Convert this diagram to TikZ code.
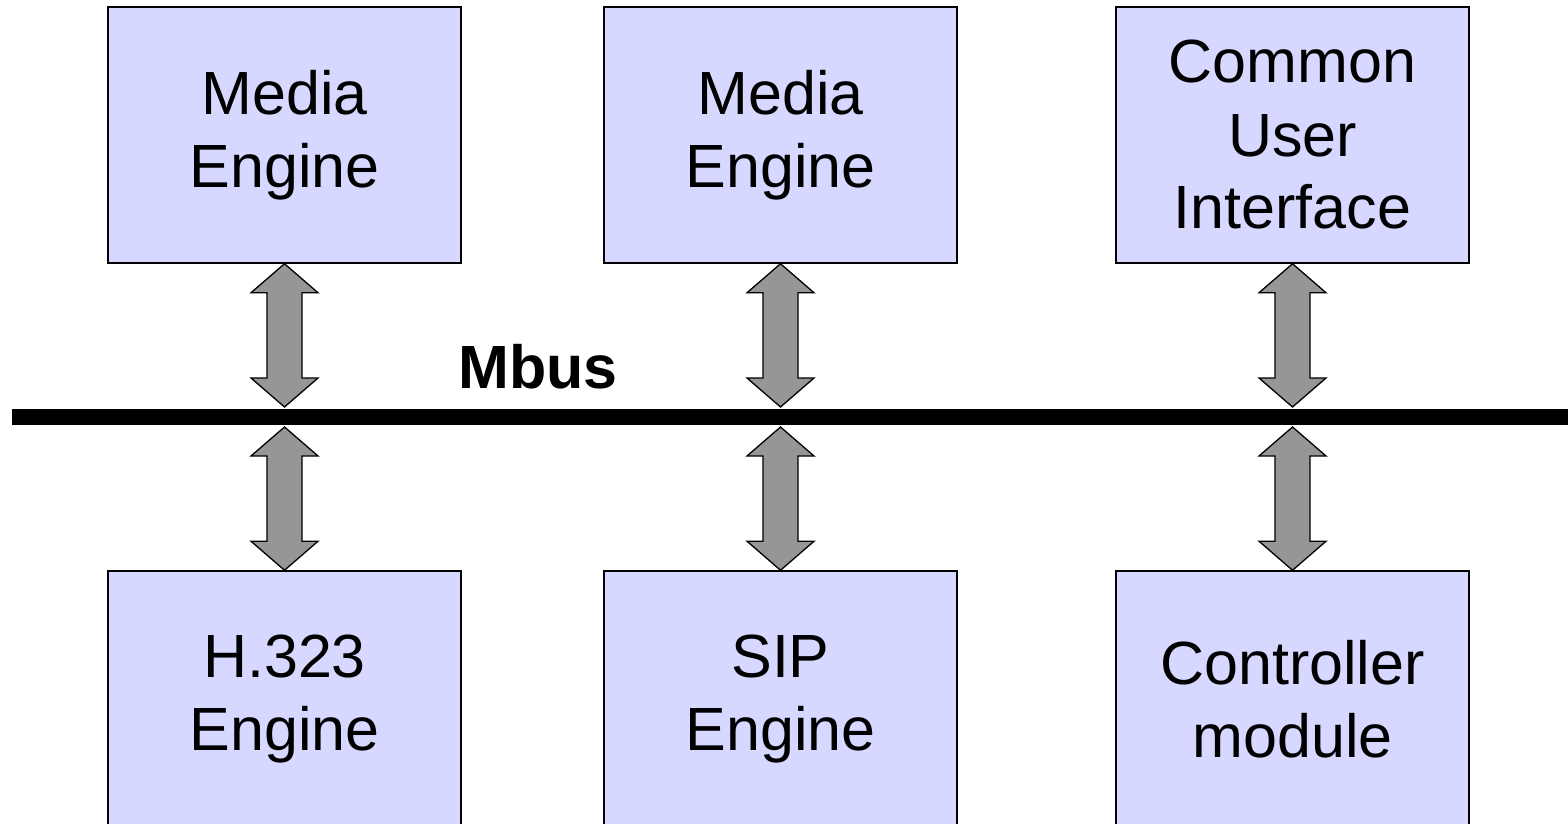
\documentclass[tikz,border=0pt]{standalone}
\usepackage{fontspec}
\setmainfont{Liberation Sans}
\usetikzlibrary{calc}
\definecolor{boxblue}{RGB}{214,216,255}
\definecolor{arrowgray}{RGB}{150,150,150}

% double headed block arrow between two points (top, bottom)
\newcommand{\busarrow}[2]{%
  \draw[arrowbody] let \p1=(#1), \p2=(#2) in
    (\x1,\y1) -- (\x1+33.5,\y1-29) -- (\x1+17.5,\y1-29)
    -- (\x1+17.5,\y2+29) -- (\x1+33.5,\y2+29) -- (\x2,\y2)
    -- (\x1-33.5,\y2+29) -- (\x1-17.5,\y2+29)
    -- (\x1-17.5,\y1-29) -- (\x1-33.5,\y1-29) -- cycle;
}

\begin{document}
\begin{tikzpicture}[x=1pt, y=1pt,
    module/.style={draw, line width=1.5pt, fill=boxblue, minimum width=353pt,
      minimum height=256pt, align=center,
      font=\fontsize{61}{73}\selectfont},
    arrowbody/.style={draw, line width=1.3pt, fill=arrowgray, line join=miter}]
    \useasboundingbox (0,0) rectangle (1568,-824);

    % Top row of modules
    \node[module] (mediaA) at (284.5,-135) {Media\\Engine};
    \node[module] (mediaB) at (780.5,-135) {Media\\Engine};
    \node[module] (cui) at (1292.5,-135) {Common\\User\\Interface};

    % Bottom row of modules
    \node[module] (h323) at (284.5,-699) {H.323\\Engine};
    \node[module] (sip) at (780.5,-699) {SIP\\Engine};
    \node[module] (ctrl) at (1292.5,-699) {Controller\\module};

    % The bus
    \coordinate (busL) at (12,-417);
    \coordinate (busR) at (1600,-417);
    \draw[line width=16pt, draw=black] (busL) -- (busR);
    \node[font=\fontsize{61}{73}\selectfont\bfseries] (mbus) at (538,-367) {Mbus};
    \coordinate (bustop) at (0,-407);
    \coordinate (busbot) at (0,-427);

    % Arrows between the modules and the bus
    \busarrow{mediaA.south}{mediaA.south |- bustop}
    \busarrow{mediaB.south}{mediaB.south |- bustop}
    \busarrow{cui.south}{cui.south |- bustop}
    \busarrow{h323.north |- busbot}{h323.north}
    \busarrow{sip.north |- busbot}{sip.north}
    \busarrow{ctrl.north |- busbot}{ctrl.north}
\end{tikzpicture}
\end{document}
